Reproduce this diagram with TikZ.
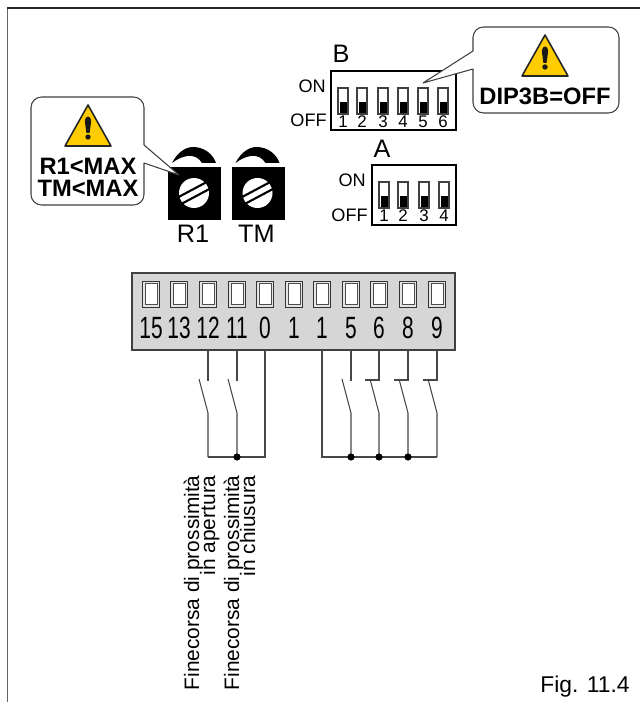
\documentclass[tikz,border=0pt]{standalone}
\usepackage{fontspec}
\setmainfont{Liberation Sans}
\usepackage{xcolor}
\usetikzlibrary{positioning,calc}
\definecolor{warnyellow}{HTML}{FFCC00}
\definecolor{blockgray}{HTML}{D6D6D6}
\tikzset{
	txt/.style={inner sep=0pt,anchor=base},
	big/.style={txt,font=\fontsize{14.4}{15}\selectfont},
	warn/.style={txt,font=\fontsize{13.5}{14}\selectfont\bfseries},
	small/.style={txt,font=\fontsize{10.3}{11}\selectfont},
	dipnum/.style={txt,font=\fontsize{9.6}{10}\selectfont},
	vert/.style={inner sep=0pt,rotate=90,anchor=base east,font=\fontsize{11.9}{12}\selectfont},
	termnum/.style={txt,font=\fontsize{17.5}{18}\selectfont,xscale=.68,transform shape},
	wire/.style={line width=.6pt,black!72},
	callout/.style={draw=black!75,fill=white,line width=.6pt,line join=round},
	dipbox/.style={draw=black,line width=.6pt,fill=white},
}
\begin{document}
\begin{tikzpicture}[x=0.02cm,y=-0.02cm]
	\useasboundingbox (0,0) rectangle (640,702);
	% frame
	\draw[black!60,line width=1.1pt] (7.5,8) -- (7.5,702);
	\draw[black!85,line width=.7pt] (7,8) -- (640,8);
	% trimmers
	\foreach \sx/\lab in {0/R1,63.5/TM}{
		\begin{scope}[xshift=\sx*0.02cm]
			\fill[black] (172,163) .. controls (177,153) and (185,147) .. (193,147) .. controls (204,147) and (213,154) .. (216,163) -- (202,163) .. controls (199,158) and (194,155) .. (187,156) .. controls (181,157) and (176,160) .. (172,163) -- cycle;
			\fill[black] (168,167) rectangle (221,220);
			\fill[white] (194,193) circle (15);
			\draw[black,line width=1.2pt] (178.2,197.2) -- (206.4,182.2);
			\draw[black,line width=1.2pt] (181.6,203.8) -- (209.8,188.8);
			\node[big] (name\lab) at (193,243) {\lab};
		\end{scope}
	}
	% dip B
	\draw[dipbox] (331,71) rectangle (456,130);
	\node[big] (dipB) at (341,63) {B};
	\node[small,anchor=base east] (onB) at (326,93) {ON};
	\node[small,anchor=base east] (offB) at (327,127) {OFF};
	\foreach \x [count=\n] in {343,362,383,403,423,443}{
		\draw[black!75,line width=.6pt,fill=white] (\x-5,88) rectangle (\x+5,114);
		\fill[black] (\x-3.5,102) rectangle (\x+3.5,113);
		\node[dipnum] (bnum\n) at (\x,128) {\n};
	}
	% dip A
	\draw[dipbox] (372,165) rectangle (456,225);
	\node[big] (dipA) at (382,158) {A};
	\node[small,anchor=base east] (onA) at (366,187) {ON};
	\node[small,anchor=base east] (offA) at (368,222) {OFF};
	\foreach \x [count=\n] in {384,403,424,444}{
		\draw[black!75,line width=.6pt,fill=white] (\x-5,182) rectangle (\x+5,208);
		\fill[black] (\x-3.5,196) rectangle (\x+3.5,207);
		\node[dipnum] (anum\n) at (\x,222) {\n};
	}
	% terminal block
	\draw[black!75,fill=blockgray,line width=.6pt] (132,273) rectangle (455,350);
	\foreach \x/\lab [count=\n] in {151/15,179/13,208/12,237/11,265/0,294/1,322/1,351/5,379/6,408/8,437/9}{
		\draw[black!80,fill=black!10,line width=.5pt] (\x-8.5,281) rectangle (\x+8.5,307);
		\draw[black!70,fill=white,line width=.4pt] (\x-6,283.5) rectangle (\x+6,304.5);
		\node[termnum] (term\n) at (\x,338) {\lab};
		\coordinate (w\n) at (\x,350);
	}
	\coordinate (swtop) at (0,381);
	\coordinate (hook) at (0,380);
	\coordinate (swbot) at (0,413);
	\coordinate (bus) at (0,457);
	% wiring
	\foreach \n in {3,4,8}{
		\draw[wire] (w\n) -- (w\n |- swtop);
	}
	\foreach \n in {9,10,11}{
		\draw[wire] (w\n) -- (w\n |- hook) -- ++(-14,0);
	}
	\foreach \n in {3,4,8,9,10,11}{
		\draw[wire] (w\n |- bus) -- (w\n |- swbot) -- ++(-9,-34);
	}
	\draw[wire] (w3 |- bus) -- (w5 |- bus) -- (w5);
	\draw[wire] (w7) -- (w7 |- bus) -- (w11 |- bus);
	\foreach \n in {4,8,9,10}{
		\fill[black] (w\n |- bus) circle (3.6);
	}
	% vertical labels
	\node[vert] (finea) at (199,475) {Finecorsa di prossimità};
	\node[vert] (apert) at (215,475) {in apertura};
	\node[vert] (fineb) at (239,475) {Finecorsa di prossimità};
	\node[vert] (chius) at (255,475) {in chiusura};
	\node[txt,anchor=base west,font=\fontsize{13}{14}\selectfont] (figno) at (540,692) {Fig. 11.4};
	% callouts
	\draw[callout] (144,145) [rounded corners=6] -- (144,97) -- (31,97) -- (31,205) -- (144,205) [sharp corners] -- (144,163) -- (179,175) -- cycle;
	\draw[callout] (473,51) [rounded corners=6] -- (473,27) -- (619,27) -- (619,113) -- (473,113) [sharp corners] -- (473,69) -- (423,83) -- cycle;
	\foreach \ax/\ay in {88/105,545/35}{
		\draw[black!85,fill=warnyellow,line width=.9pt,line join=round] (\ax,\ay) -- (\ax+23,\ay+41) -- (\ax-23,\ay+41) -- cycle;
		\fill[black!90] (\ax-3.2,\ay+16) .. controls (\ax-3.2,\ay+10) and (\ax+3.2,\ay+10) .. (\ax+3.2,\ay+16) -- (\ax+1.6,\ay+28) -- (\ax-1.6,\ay+28) -- cycle;
		\fill[black!90] (\ax,\ay+32) circle (2.7);
	}
	\node[warn] (warnRone) at (88,175) {R1<MAX};
	\node[warn] (warnTM) at (88,197) {TM<MAX};
	\node[warn] (warnDIP) at (545,105) {DIP3B=OFF};
\end{tikzpicture}
\end{document}
